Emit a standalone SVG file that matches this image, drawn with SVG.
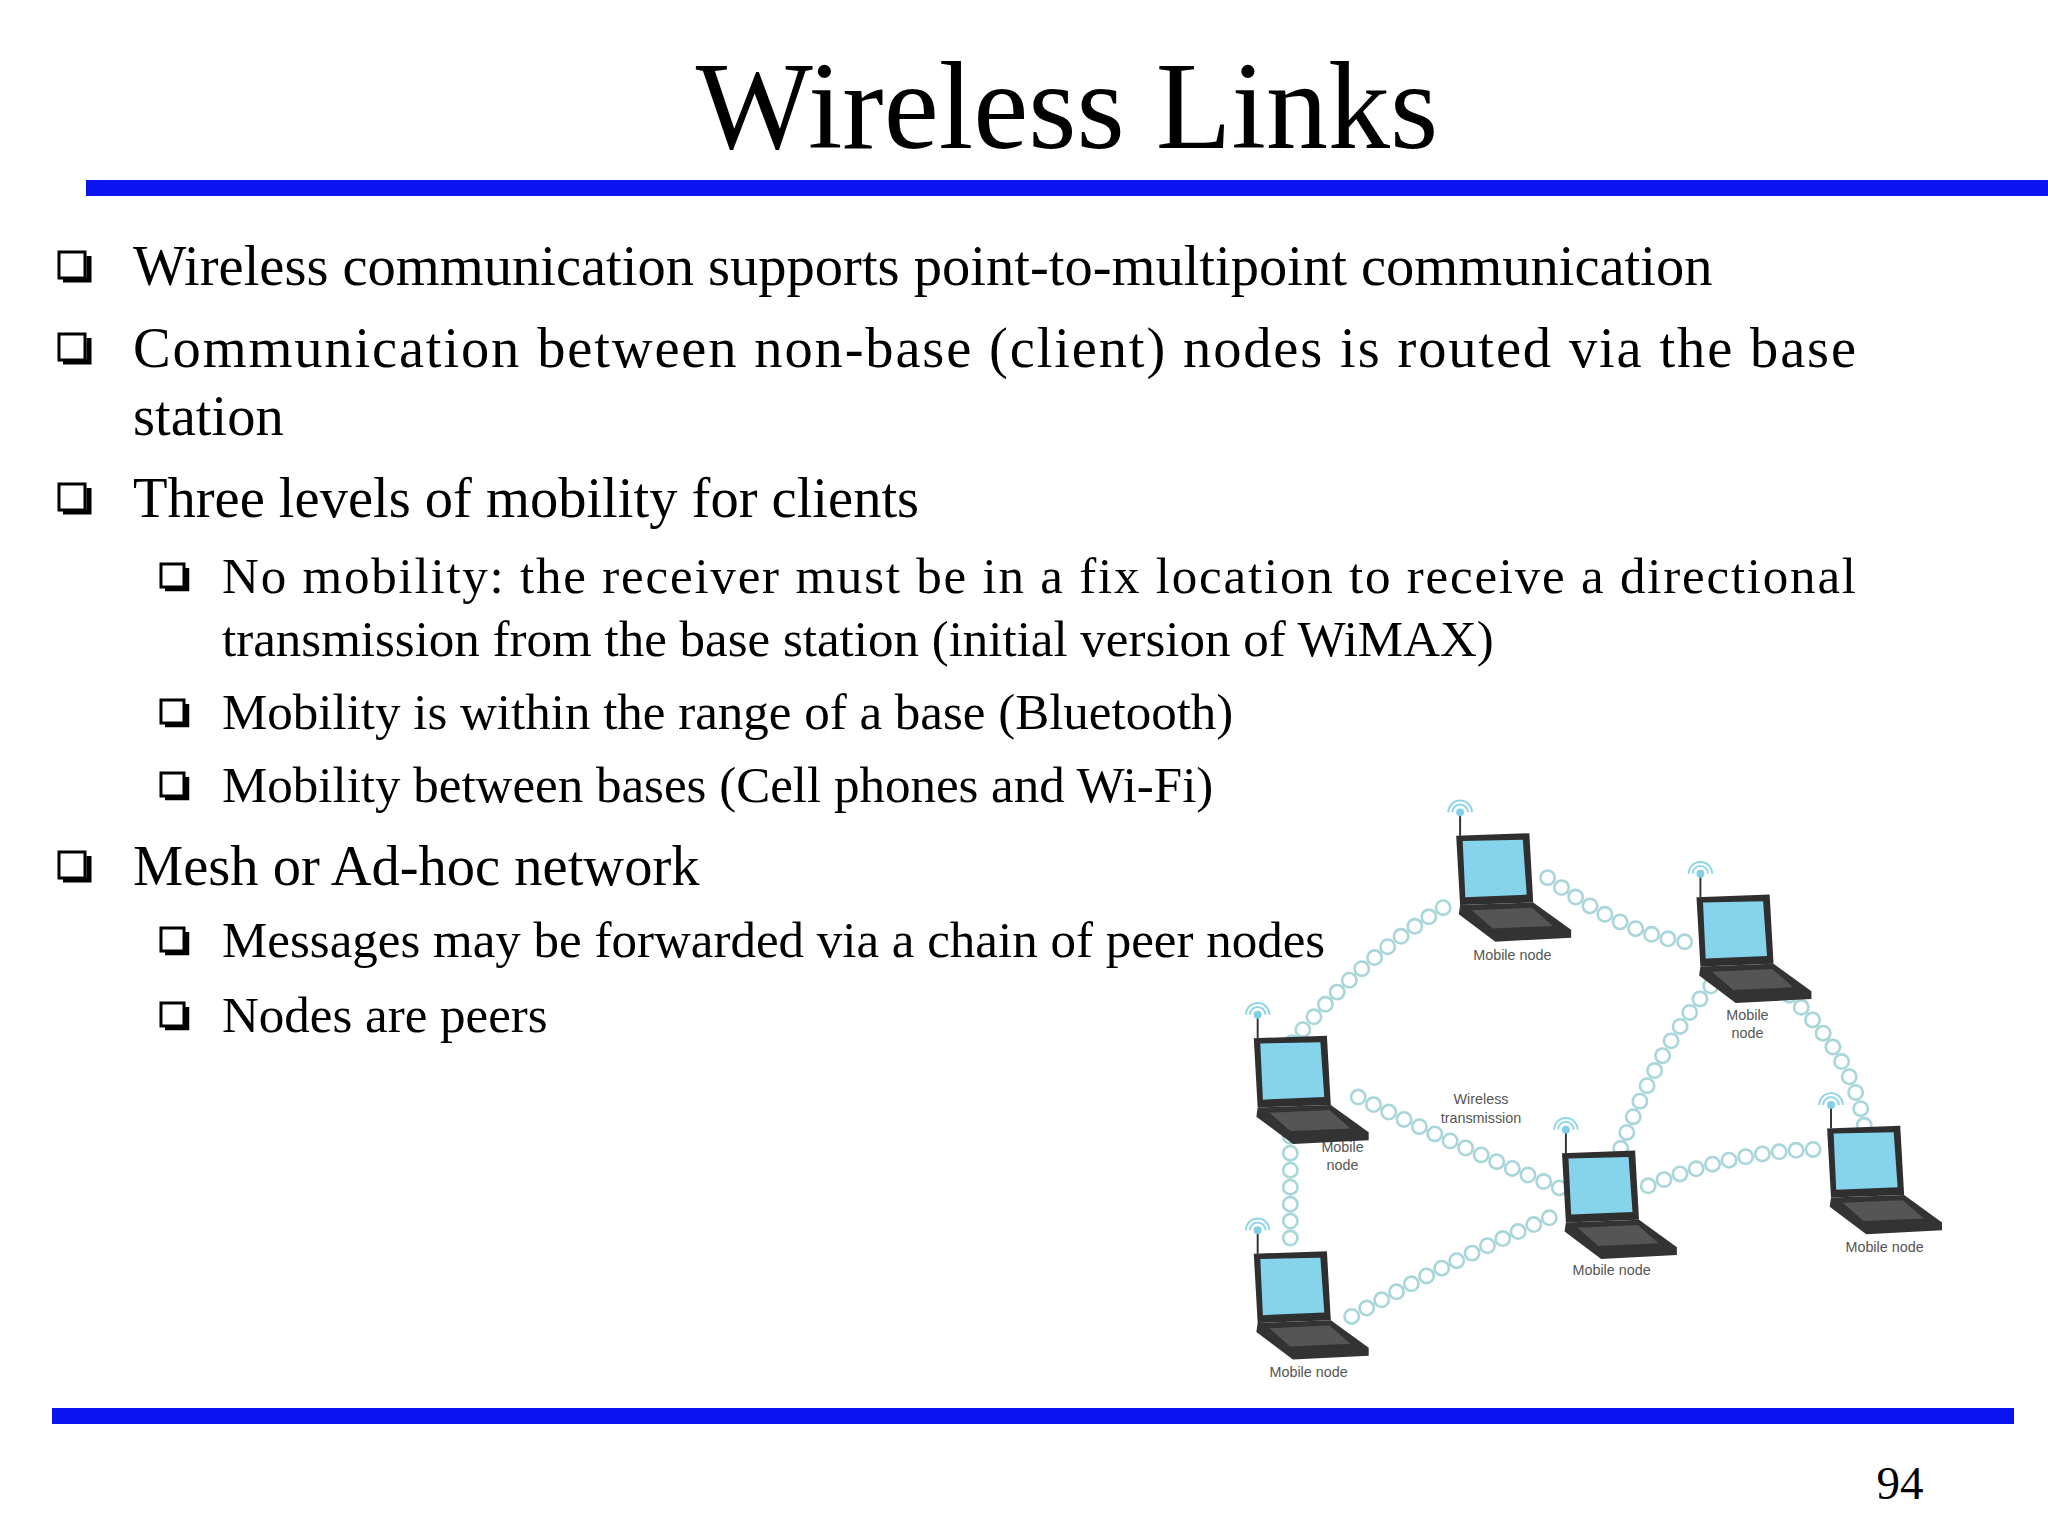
<svg xmlns="http://www.w3.org/2000/svg" width="2048" height="1536" viewBox="0 0 2048 1536">
<style>
.t{font-family:"Liberation Serif",serif;fill:#000}
.m{font-size:56.5px}
.s{font-size:51px}
.lb{font-family:"Liberation Sans",sans-serif;font-size:11px;fill:#555;text-anchor:middle}
.ch1{fill:none;stroke:#a9d6da;stroke-width:13;stroke-dasharray:0 13;stroke-linecap:round}
.ch2{fill:none;stroke:#fff;stroke-width:9;stroke-dasharray:0 13;stroke-linecap:round}
</style>
<defs>
<g id="bm"><rect x="0" y="0" width="26" height="26" fill="#fff" stroke="#000" stroke-width="3"/><path d="M4,28 H30 V4" fill="none" stroke="#000" stroke-width="5"/></g>
<g id="bs"><rect x="0" y="0" width="23" height="23" fill="#fff" stroke="#000" stroke-width="3"/><path d="M4,25 H26 V4" fill="none" stroke="#000" stroke-width="4.5"/></g>
<g id="lap">
<line x1="3" y1="0" x2="3" y2="-16" stroke="#333" stroke-width="1.5"/>
<circle cx="3" cy="-18" r="3" fill="#7fcfe6"/>
<path d="M-3,-18 A6,6 0 0 1 9,-18 M-6,-18 A9,9 0 0 1 12,-18" fill="none" stroke="#8fd5ea" stroke-width="1.5"/>
<path d="M0,0 L56,-2 L59,51 L3,53 Z" fill="#2f2f2f"/>
<path d="M5,4 L51,3 L54,45 L7,47 Z" fill="#86d3ec"/>
<path d="M3,53 L59,51 L88,72 L88,78 L30,81 L2,60 Z" fill="#333"/>
<path d="M12,57 L58,55 L74,69 L28,71 Z" fill="#555"/>
</g>
</defs>
<rect width="2048" height="1536" fill="#fff"/>
<text class="t" x="1067" y="148" font-size="124" text-anchor="middle">Wireless Links</text>
<rect x="86" y="180" width="1962" height="16" fill="#0a14f0"/>
<rect x="52" y="1408" width="1962" height="16" fill="#0a14f0"/>
<g id="bullets">
<use href="#bm" x="59" y="252"/><use href="#bm" x="59" y="334"/><use href="#bm" x="59" y="484"/><use href="#bm" x="59" y="852"/>
<use href="#bs" x="161" y="564"/><use href="#bs" x="161" y="700"/><use href="#bs" x="161" y="773"/><use href="#bs" x="161" y="928"/><use href="#bs" x="161" y="1003"/>
</g>
<text class="t m" x="133" y="285">Wireless communication supports point-to-multipoint communication</text>
<text class="t m" x="133" y="367" textLength="1723" lengthAdjust="spacing">Communication between non-base (client) nodes is routed via the base</text>
<text class="t m" x="133" y="435">station</text>
<text class="t m" x="133" y="517">Three levels of mobility for clients</text>
<text class="t s" x="222" y="593" textLength="1634" lengthAdjust="spacing">No mobility: the receiver must be in a fix location to receive a directional</text>
<text class="t s" x="222" y="656">transmission from the base station (initial version of WiMAX)</text>
<text class="t s" x="222" y="729">Mobility is within the range of a base (Bluetooth)</text>
<text class="t s" x="222" y="802">Mobility between bases (Cell phones and Wi-Fi)</text>
<text class="t m" x="133" y="885">Mesh or Ad-hoc network</text>
<text class="t s" x="222" y="957">Messages may be forwarded via a chain of peer nodes</text>
<text class="t s" x="222" y="1032">Nodes are peers</text>
<text class="t" x="1900" y="1499" font-size="47" text-anchor="middle">94</text>
<g transform="scale(1.306)">
<g id="connectors">
<path class="ch1" d="M1105,695 Q1040,735 988,800"/><path class="ch2" d="M1105,695 Q1040,735 988,800"/>
<path class="ch1" d="M1185,672 Q1250,720 1300,722"/><path class="ch2" d="M1185,672 Q1250,720 1300,722"/>
<path class="ch1" d="M1310,755 Q1270,800 1240,882"/><path class="ch2" d="M1310,755 Q1270,800 1240,882"/>
<path class="ch1" d="M1370,762 Q1420,810 1428,865"/><path class="ch2" d="M1370,762 Q1420,810 1428,865"/>
<path class="ch1" d="M1040,840 Q1120,880 1200,912"/><path class="ch2" d="M1040,840 Q1120,880 1200,912"/>
<path class="ch1" d="M988,870 L988,960"/><path class="ch2" d="M988,870 L988,960"/>
<path class="ch1" d="M1035,1008 Q1120,960 1197,928"/><path class="ch2" d="M1035,1008 Q1120,960 1197,928"/>
<path class="ch1" d="M1262,908 Q1330,880 1398,880"/><path class="ch2" d="M1262,908 Q1330,880 1398,880"/>
</g>
<g id="n1"><use href="#lap" x="1115" y="640"/><text class="lb" x="1158" y="735">Mobile node</text></g>
<g id="n2"><use href="#lap" x="1299" y="687"/><text class="lb" x="1338" y="781">Mobile</text><text class="lb" x="1338" y="795">node</text></g>
<g id="n3"><use href="#lap" x="960" y="795"/><text class="lb" x="1028" y="882">Mobile</text><text class="lb" x="1028" y="896">node</text></g>
<g id="n4"><use href="#lap" x="1196" y="883"/><text class="lb" x="1234" y="976">Mobile node</text></g>
<g id="n5"><use href="#lap" x="1399" y="864"/><text class="lb" x="1443" y="959">Mobile node</text></g>
<g id="n6"><use href="#lap" x="960" y="960"/><text class="lb" x="1002" y="1054">Mobile node</text></g>
<g id="wt"><text class="lb" x="1134" y="845">Wireless</text><text class="lb" x="1134" y="860">transmission</text></g>
</g>
</svg>
